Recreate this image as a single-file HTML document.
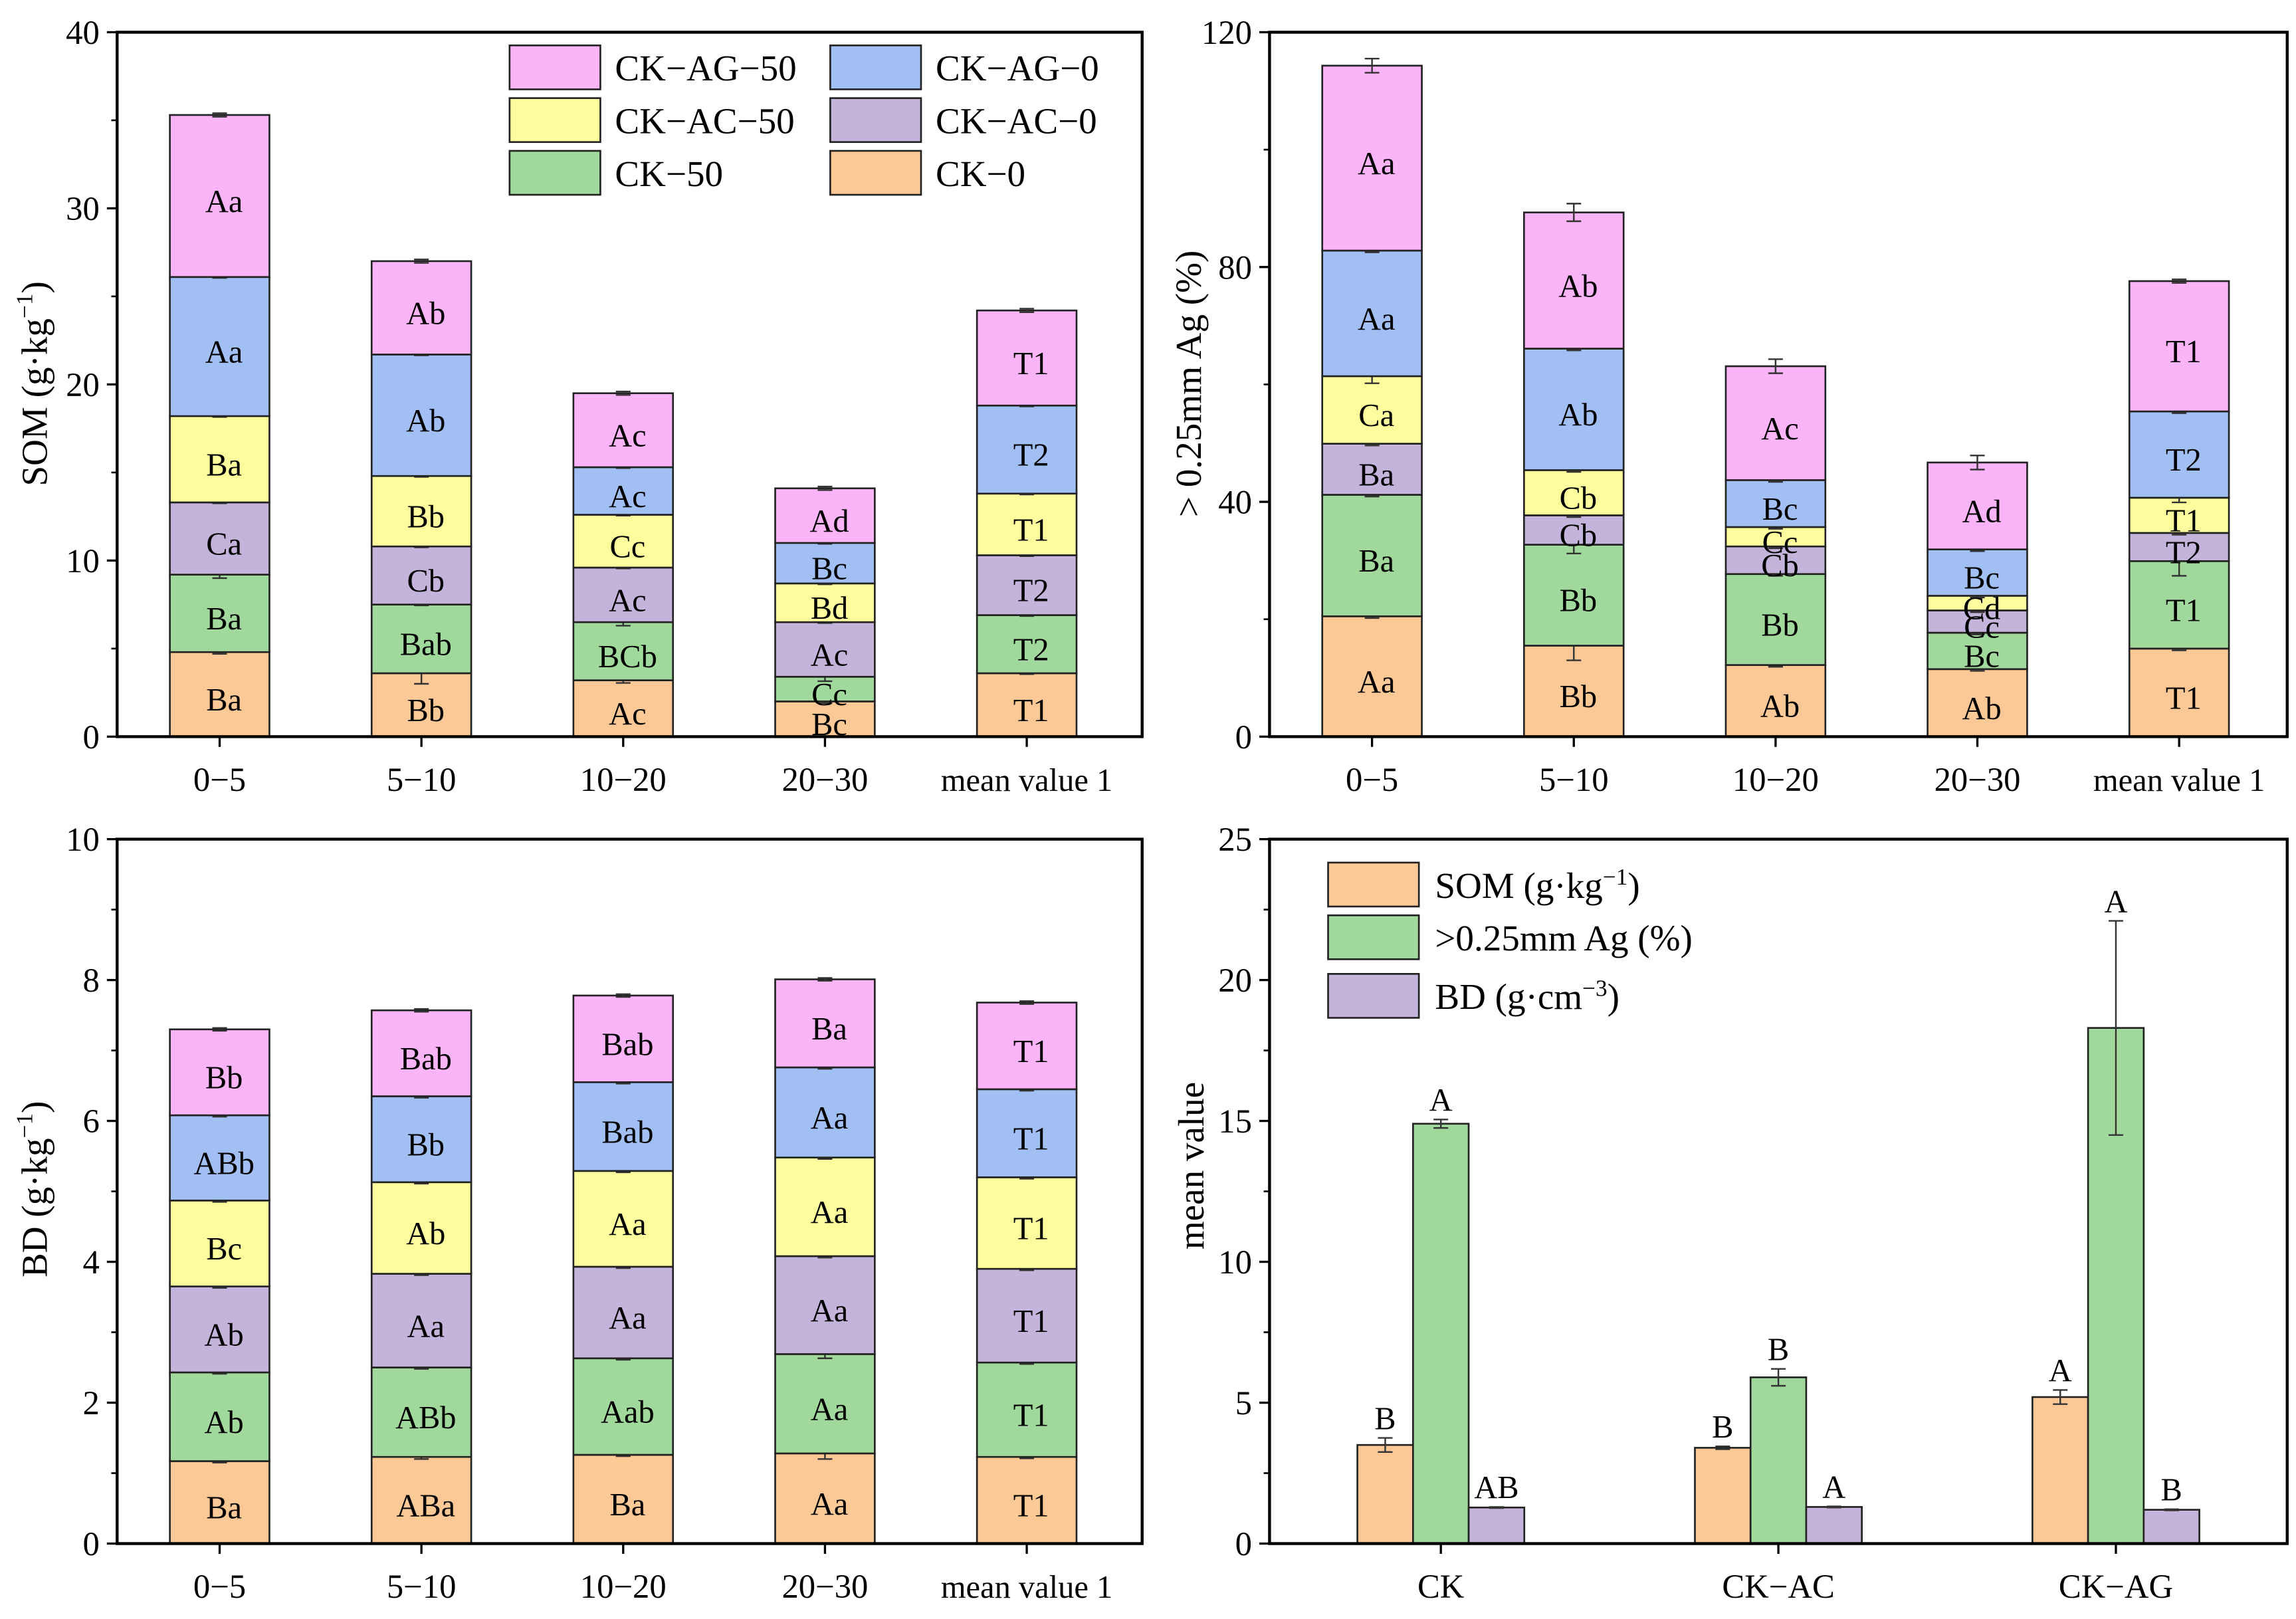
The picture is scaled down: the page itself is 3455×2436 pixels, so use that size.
<!DOCTYPE html>
<html><head><meta charset="utf-8">
<style>
html,body{margin:0;padding:0;background:#fff;}
svg{display:block;font-family:"Liberation Serif","Times New Roman",serif;}
</style></head>
<body>
<svg id="chart" width="3455" height="2436" viewBox="0 0 1568 1105.5" preserveAspectRatio="none" xmlns="http://www.w3.org/2000/svg">
<rect x="0" y="0" width="1568" height="1105.5" fill="#fff"/>
</svg>
<script>
const categories = ["0\u22125","5\u221210","10\u221220","20\u221230","mean value 1"];
const seriesNames = ["CK\u22120","CK\u221250","CK\u2212AC\u22120","CK\u2212AC\u221250","CK\u2212AG\u22120","CK\u2212AG\u221250"];
const colors = ["#fbc896","#a0d99b","#c4b3da","#fdfd9e","#a1bff2","#fbb4f7"];
const somCK0   = [4.8,3.6,3.2,2.0,3.6];
const somCK50  = [4.4,3.9,3.3,1.4,3.3];
const somAC0   = [4.1,3.3,3.1,3.1,3.4];
const somAC50  = [4.9,4.0,3.0,2.2,3.5];
const somAG0   = [7.9,6.9,2.7,2.3,5.0];
const somAG50  = [9.2,5.3,4.2,3.1,5.4];
const somErr   = [[0.1,0.6,0.15,0.1,0.05],[0.2,0.05,0.2,0.25,0.05],[0.05,0.05,0.05,0.05,0.05],[0.05,0.05,0.05,0.05,0.05],[0.05,0.05,0.05,0.05,0.05],[0.1,0.1,0.1,0.1,0.1]];
const somLabels = [["Ba","Bb","Ac","Bc","T1"],["Ba","Bab","BCb","Cc","T2"],["Ca","Cb","Ac","Ac","T2"],["Ba","Bb","Cc","Bd","T1"],["Aa","Ab","Ac","Bc","T2"],["Aa","Ab","Ac","Ad","T1"]];
const agCK0  = [20.5,15.5,12.2,11.5,15.0];
const agCK50 = [20.7,17.2,15.5,6.2,14.9];
const agAC0  = [8.7,5.0,4.7,3.8,4.8];
const agAC50 = [11.5,7.7,3.3,2.5,6.0];
const agAG0  = [21.4,20.7,8.0,7.9,14.7];
const agAG50 = [31.5,23.2,19.4,14.8,22.2];
const agErr  = [[0.3,2.5,0.3,0.3,0.3],[0.3,1.5,0.3,0.3,2.5],[0.3,0.3,0.3,0.3,0.3],[1.2,0.3,0.3,0.3,0.8],[0.3,0.3,0.3,0.3,0.3],[1.2,1.5,1.2,1.2,0.3]];
const agLabels = [["Aa","Bb","Ab","Ab","T1"],["Ba","Bb","Bb","Bc","T1"],["Ba","Cb","Cb","Cc","T2"],["Ca","Cb","Cc","Cd","T1"],["Aa","Ab","Bc","Bc","T2"],["Aa","Ab","Ac","Ad","T1"]];
const bdCK0  = [1.17,1.23,1.26,1.28,1.23];
const bdCK50 = [1.26,1.27,1.37,1.41,1.34];
const bdAC0  = [1.22,1.33,1.30,1.39,1.33];
const bdAC50 = [1.22,1.30,1.36,1.40,1.30];
const bdAG0  = [1.21,1.22,1.26,1.28,1.25];
const bdAG50 = [1.22,1.22,1.23,1.25,1.23];
const bdErr  = [[0.02,0.03,0.02,0.08,0.02],[0.02,0.02,0.02,0.06,0.02],[0.02,0.02,0.02,0.02,0.02],[0.02,0.02,0.02,0.02,0.02],[0.02,0.02,0.02,0.02,0.02],[0.02,0.02,0.02,0.02,0.02]];
const bdLabels = [["Ba","ABa","Ba","Aa","T1"],["Ab","ABb","Aab","Aa","T1"],["Ab","Aa","Aa","Aa","T1"],["Bc","Ab","Aa","Aa","T1"],["ABb","Bb","Bab","Aa","T1"],["Bb","Bab","Bab","Ba","T1"]];
const groups = ["CK","CK\u2212AC","CK\u2212AG"];
const meanSOM = [3.5,3.4,5.2];
const meanAg  = [14.9,5.9,18.3];
const meanBD  = [1.28,1.3,1.2];
const errSOM = [0.25,0.05,0.25];
const errAg  = [0.15,0.3,3.8];
const errBD  = [0.02,0.02,0.02];
const letSOM = ["B","B","A"];
const letAg  = ["A","B","A"];
const letBD  = ["AB","A","B"];
const yTicksA = [0,10,20,30,40];
const yTicksB = [0,40,80,120];
const yTicksC = [0,2,4,6,8,10];
const yTicksD = [0,5,10,15,20,25];

const NS="http://www.w3.org/2000/svg";
const svg=document.getElementById('chart');
function el(tag,attrs,parent){const e=document.createElementNS(NS,tag);for(const k in attrs)e.setAttribute(k,attrs[k]);(parent||svg).appendChild(e);return e;}
function txt(s,attrs,parent){const e=el('text',attrs,parent);e.textContent=s;return e;}

function frame(name,x0,y0,x1,y1,ymax,ticks,cats,catX){
  const g=el('g',{});
  
  
  const ys=v=>y1-(v/ymax)*(y1-y0);
  const ax=el('g',{},g);
  
  
  ticks.forEach(t=>{
    el('line',{x1:x0-7,x2:x0,y1:ys(t),y2:ys(t),stroke:'#000','stroke-width':1.5},ax);
    const l=txt(String(t),{x:x0-12,y:ys(t)+8,'text-anchor':'end','font-size':23},ax);
    
    
  });
  for(let i=0;i<ticks.length-1;i++){const m=(ticks[i]+ticks[i+1])/2;el('line',{x1:x0-4,x2:x0,y1:ys(m),y2:ys(m),stroke:'#000','stroke-width':1.2},ax);}
  const xa=el('g',{},g);
  
  
  cats.forEach((c,i)=>{
    el('line',{x1:catX(i),x2:catX(i),y1:y1,y2:y1+7,stroke:'#000','stroke-width':1.5},xa);
    const l=txt(c,{x:catX(i),y:y1+37,'text-anchor':'middle','font-size':c.length>8?22:23},xa);
    
    
  });
  return {g,ys};
}
function finishFrame(g,x0,y0,x1,y1){el('rect',{x:x0,y:y0,width:x1-x0,height:y1-y0,fill:'none',stroke:'#000','stroke-width':2},g);}

function stacked(name,x0,y0,x1,y1,ymax,ticks,series,errs,labels){
  const cx=i=>x0+70+i*137.8;
  const f=frame(name,x0,y0,x1,y1,ymax,ticks,categories,cx);
  const bw=68;
  categories.forEach((c,i)=>{
    let cum=0;
    series.forEach((s,k)=>{
      const top=cum+s[i];
      const r=el('rect',{x:cx(i)-bw/2,y:f.ys(top),width:bw,height:f.ys(cum)-f.ys(top),fill:colors[k],stroke:'#222','stroke-width':1.2},f.g);
      
      
      const e=errs[k][i];
      const eg=el('g',{stroke:'#333','stroke-width':1.1},f.g);
      el('line',{x1:cx(i),x2:cx(i),y1:f.ys(top+e),y2:f.ys(top-e)},eg);
      el('line',{x1:cx(i)-5,x2:cx(i)+5,y1:f.ys(top+e),y2:f.ys(top+e)},eg);
      el('line',{x1:cx(i)-5,x2:cx(i)+5,y1:f.ys(top-e),y2:f.ys(top-e)},eg);
      const t=txt(labels[k][i],{x:cx(i)+3,y:(f.ys(top)+f.ys(cum))/2+11,'text-anchor':'middle','font-size':22},f.g);
      
      
      cum=top;
    });
  });
  finishFrame(f.g,x0,y0,x1,y1);
}

stacked('som-stacked-chart',80,22,780,503,40,yTicksA,[somCK0,somCK50,somAC0,somAC50,somAG0,somAG50],somErr,somLabels);
stacked('aggregate-stacked-chart',867,22,1562,503,120,yTicksB,[agCK0,agCK50,agAC0,agAC50,agAG0,agAG50],agErr,agLabels);
stacked('bd-stacked-chart',80,573,780,1054,10,yTicksC,[bdCK0,bdCK50,bdAC0,bdAC50,bdAG0,bdAG50],bdErr,bdLabels);

const leg=el('g',{});


const legItems=[[5,348,31],[4,567,31],[3,348,67],[2,567,67],[1,348,103],[0,567,103]];
legItems.forEach(([k,x,y])=>{
  const r=el('rect',{x:x,y:y,width:62,height:30,fill:colors[k],stroke:'#222','stroke-width':1.2},leg);
  
  
  const t=txt(seriesNames[k],{x:x+72,y:y+24,'font-size':25},leg);
  
  
});

(function(){
  const x0=867,y0=573,x1=1562,y1=1054;
  const gx=i=>984+i*230.5;
  const f=frame('mean-value-chart',x0,y0,x1,y1,25,yTicksD,groups,gx);
  const sets=[[meanSOM,errSOM,letSOM,colors[0],-38],[meanAg,errAg,letAg,colors[1],0],[meanBD,errBD,letBD,colors[2],38]];
  groups.forEach((gname,i)=>{
    sets.forEach(([vals,errs,lets,col,off])=>{
      const cx=gx(i)+off;
      const r=el('rect',{x:cx-19,y:f.ys(vals[i]),width:38,height:y1-f.ys(vals[i]),fill:col,stroke:'#222','stroke-width':1.2},f.g);
      
      
      const e=errs[i];
      const eg=el('g',{stroke:'#333','stroke-width':1.1},f.g);
      el('line',{x1:cx,x2:cx,y1:f.ys(vals[i]+e),y2:f.ys(vals[i]-e)},eg);
      el('line',{x1:cx-5,x2:cx+5,y1:f.ys(vals[i]+e),y2:f.ys(vals[i]+e)},eg);
      el('line',{x1:cx-5,x2:cx+5,y1:f.ys(vals[i]-e),y2:f.ys(vals[i]-e)},eg);
      const t=txt(lets[i],{x:cx,y:f.ys(vals[i]+e)-6,'text-anchor':'middle','font-size':22},f.g);
      
      
    });
  });
  finishFrame(f.g,x0,y0,x1,y1);
  const lg=el('g',{});
  
  
  [[0,589],[1,625],[2,665]].forEach(([k,y])=>{
    const r=el('rect',{x:907,y:y,width:62,height:30,fill:colors[k],stroke:'#222','stroke-width':1.2},lg);
    
    
  });
  lg.insertAdjacentHTML('beforeend','<text x="980" y="613" font-size="25">SOM  (g·kg<tspan dy="-9" font-size="16">−1</tspan><tspan dy="9">)</tspan></text><text x="980" y="649" font-size="25">&gt;0.25mm Ag (%)</text><text x="980" y="689" font-size="25">BD (g·cm<tspan dy="-9" font-size="16">−3</tspan><tspan dy="9">)</tspan></text>');
})();
</script>
<svg style="position:absolute;left:0;top:0" width="3455" height="2436" viewBox="0 0 1568 1105.5" preserveAspectRatio="none" xmlns="http://www.w3.org/2000/svg" font-family="Liberation Serif, serif">
<text transform="translate(32,262) rotate(-90)" text-anchor="middle" font-size="25">SOM (g·kg<tspan dy="-10" font-size="16">−1</tspan><tspan dy="10">)</tspan></text>
<text transform="translate(820,262) rotate(-90)" text-anchor="middle" font-size="25">&gt; 0.25mm Ag  (%)</text>
<text transform="translate(32,812) rotate(-90)" text-anchor="middle" font-size="25">BD  (g·kg<tspan dy="-10" font-size="16">−1</tspan><tspan dy="10">)</tspan></text>
<text transform="translate(822,796) rotate(-90)" text-anchor="middle" font-size="25">mean value</text>
</svg>
</body></html>
